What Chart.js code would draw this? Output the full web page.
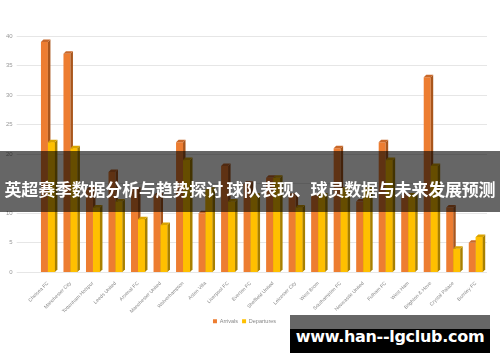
<!DOCTYPE html>
<html>
<head>
<meta charset="utf-8">
<script src="https://cdn.jsdelivr.net/npm/chart.js@4"></script>
<style>
  body { margin: 0; background: #fff; }
  #wrap { position: relative; width: 500px; height: 362px; overflow: hidden; }
  #banner {
    position: absolute; left: 0; top: 151px; width: 500px; height: 61px;
    background: rgba(0, 0, 0, 0.6);
  }
  #banner span {
    position: absolute; left: 0; right: 0; top: 25px; text-align: center;
    color: #fff; font: bold 17px "Noto Sans CJK SC", sans-serif; white-space: nowrap;
    letter-spacing: -0.2px;
  }
  #mark {
    position: absolute; left: 290px; top: 315px; width: 200px; height: 38px;
    background: linear-gradient(#666 0, #666 37%, #000 37%, #000 100%);
  }
  #mark span {
    position: absolute; left: 0; right: 0; top: 12px; text-align: center;
    color: #fff; font: bold 16px "DejaVu Sans", sans-serif; white-space: nowrap;
    letter-spacing: -0.3px;
  }
</style>
</head>
<body>
<div id="wrap">
  <canvas id="myChart"></canvas>
  <div id="banner"><span>英超赛季数据分析与趋势探讨 球队表现、球员数据与未来发展预测</span></div>
  <div id="mark"><span>www.han--lgclub.com</span></div>
</div>
<script>
// clubs along the x axis
let clubs = ['Chelsea FC', 'Manchester City', 'Tottenham Hotspur', 'Leeds United', 'Arsenal FC',
  'Manchester United', 'Wolverhampton', 'Aston Villa', 'Liverpool FC', 'Everton FC',
  'Sheffield United', 'Leicester City', 'West Brom', 'Southampton FC', 'Newcastle United',
  'Fulham FC', 'West Ham', 'Brighton & Hove', 'Crystal Palace', 'Burnley FC'];
let arrivals = [39, 37, 14, 17, 14, 13, 22, 10, 18, 15, 16, 13, 13, 21, 12, 22, 13, 33, 11, 5];
let departures = [22, 21, 11, 12, 9, 8, 19, 14, 12, 13, 16, 11, 13, 14, 14, 19, 13, 18, 4, 6];
let yTicks = [0, 5, 10, 15, 20, 25, 30, 35, 40];

// fake 3d sides: orange first, then yellow bar is redrawn over it
function drawFaces(ctx, bar, side, top) {
  let d = 2.5;
  let p = bar.getProps(['x', 'y', 'base', 'width'], true);
  let l = p.x - p.width / 2;
  let r = p.x + p.width / 2;
  ctx.fillStyle = side;
  ctx.beginPath();
  ctx.moveTo(r, p.y);
  ctx.lineTo(r + d, p.y - d);
  ctx.lineTo(r + d, p.base - d);
  ctx.lineTo(r, p.base);
  ctx.closePath();
  ctx.fill();
  ctx.fillStyle = top;
  ctx.beginPath();
  ctx.moveTo(l, p.y);
  ctx.lineTo(l + d, p.y - d);
  ctx.lineTo(r + d, p.y - d);
  ctx.lineTo(r, p.y);
  ctx.closePath();
  ctx.fill();
}

let depthPlugin = {
  id: 'depth',
  afterDatasetsDraw(chart) {
    let ctx = chart.ctx;
    let orange = chart.getDatasetMeta(0);
    let yellow = chart.getDatasetMeta(1);
    ctx.save();
    orange.data.forEach(function (bar) {
      drawFaces(ctx, bar, '#A9561C', '#C8682A');
    });
    yellow.data.forEach(function (bar) {
      bar.draw(ctx);
      drawFaces(ctx, bar, '#A88000', '#D9A300');
    });
    ctx.restore();
  }
};

let ctx = document.getElementById('myChart').getContext('2d');
let myChart = new Chart(ctx, {
  type: 'bar',
  data: {
    labels: clubs,
    datasets: [{
      label: 'Arrivals',
      data: arrivals,
      backgroundColor: '#ED7D31'
    }, {
      label: 'Departures',
      data: departures,
      backgroundColor: '#FFC000'
    }]
  },
  options: {
    responsive: true,
    maintainAspectRatio: false,
    animation: false,
    layout: { padding: { top: 36, right: 13, left: 2, bottom: 28 } },
    datasets: {
      bar: { categoryPercentage: 0.62, barPercentage: 1 }
    },
    plugins: {
      legend: {
        position: 'bottom',
        labels: {
          boxWidth: 4, boxHeight: 4, padding: 4,
          color: '#888',
          font: { size: 5.5, family: 'Liberation Sans' }
        }
      },
      tooltip: { enabled: false }
    },
    scales: {
      x: {
        grid: { display: false },
        border: { display: false },
        ticks: {
          color: '#888', minRotation: 45, maxRotation: 45, padding: 0,
          font: { size: 5, family: 'Liberation Sans' }
        }
      },
      y: {
        min: 0, max: 40,
        afterBuildTicks: function (axis) {
          axis.ticks = yTicks.map(function (v) { return { value: v }; });
        },
        grid: { color: '#e6e6e6', tickLength: 20, tickColor: '#e6e6e6' },
        border: { display: false },
        ticks: {
          color: '#999', padding: 4,
          font: { size: 6, family: 'Liberation Sans' }
        }
      }
    }
  },
  plugins: [depthPlugin]
});
</script>
</body>
</html>
